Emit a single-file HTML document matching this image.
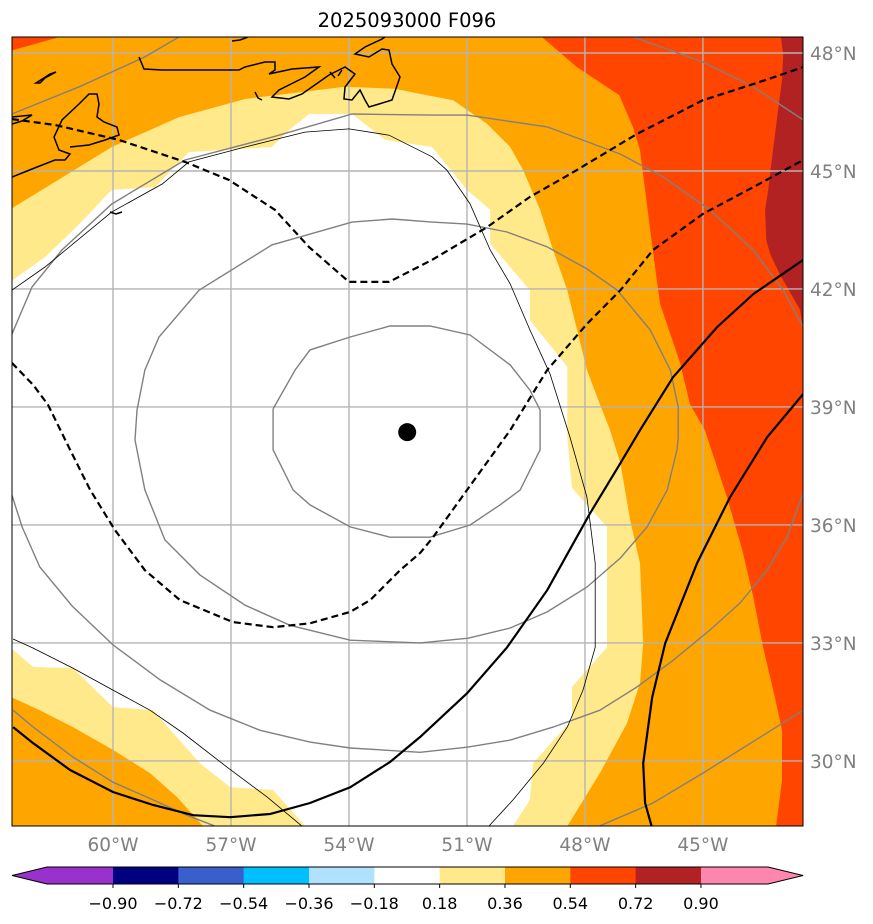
<!DOCTYPE html>
<html><head><meta charset="utf-8"><style>
html,body{margin:0;padding:0;background:#fff;width:873px;height:924px;overflow:hidden}
svg{display:block;font-family:"DejaVu Sans","Liberation Sans",sans-serif}
</style></head><body>
<svg id="chart" width="873" height="924" viewBox="0 0 873 924" xmlns="http://www.w3.org/2000/svg">
<defs><clipPath id="mapclip"><rect x="12" y="37" width="791" height="789"/></clipPath></defs>
<text x="407" y="27" text-anchor="middle" font-size="19.5" fill="#000">2025093000 F096</text>
<rect x="12" y="37" width="791" height="789" fill="#ffa500"/>
<g id="fills" clip-path="url(#mapclip)"></g>
<g id="grid" clip-path="url(#mapclip)"></g>
<g id="lines" clip-path="url(#mapclip)"></g>
<g id="coast" clip-path="url(#mapclip)" fill="none" stroke="#000" stroke-width="1.5">
<path d="M12,117 L32,115 L22,121 L12,124"/>
<path d="M12,177 L32,169 L55,160 L65,160 L70,154 L59,150 L54,137 L62,120 L79,104 L89,94 L97,94 L99,104 L97,117 L104,122 L117,127 L119,135 L105,140 L89,145 L70,147"/>
<path d="M36,83 L50,74 L56,72 L45,78 L40,83 Z"/>
<path d="M139,57 L144,69 L162,70 L239,70 L245,67 L265,62 L275,62 L275,70 L269,74 L292,69 L319,67 L305,77 L299,80 L279,90 L272,97 L289,99 L302,94 L329,75 L345,67 L355,74 L345,87 L344,99 L352,100 L360,90 L365,100 L369,107 L379,104 L392,100 L400,77 L392,64 L389,50 L382,49 L369,57 L355,54 L365,47 L382,39 L385,37"/>
<path d="M240,40 L248,37 M232,41 L240,40"/>
<path d="M255,92 L258,98 L262,100"/>
<path d="M330,72 L335,78 M338,76 L342,70"/>
<path d="M110,212 L116,214 L122,212"/>
</g>
<g id="centerdot" clip-path="url(#mapclip)"></g>
<rect x="12" y="37" width="791" height="789" fill="none" stroke="#000" stroke-width="1"/>
<g id="axislabels" font-size="18.5" fill="#808080"></g>
<g id="colorbar"></g>
</svg>
<script>
// ---- map axis functions ----
function xOf(lon){return 113+(lon+60)*39.33;}
function yOf(lat){return 53+(48-lat)*39.33;}

// ---- data arrays (lon, lat) ----
const lonTicks=[-60,-57,-54,-51,-48,-45];
const lonTickLabels=["60°W","57°W","54°W","51°W","48°W","45°W"];
const latTicks=[48,45,42,39,36,33,30];
const latTickLabels=["48°N","45°N","42°N","39°N","36°N","33°N","30°N"];

const redRegion=[[-49.32,48.6],[-48.20,47.64],[-47.13,46.93],[-46.78,46.12],[-46.60,45.53],[-46.47,44.52],[-46.34,43.50],[-46.19,42.36],[-46.09,41.62],[-45.58,40.12],[-45.33,39.07],[-44.95,38.41],[-44.39,36.71],[-44.00,35.36],[-43.72,34.17],[-43.47,32.89],[-43.17,31.62],[-42.99,30.78],[-42.99,29.51],[-43.17,28.1],[-42.2,28.1],[-42.2,48.6]];
const redCorner=[[-62.8,48.6],[-61.35,48.6],[-61.35,48.41],[-62.8,48.0]];
const brickRegion=[[-43.04,48.6],[-42.96,47.95],[-42.99,47.31],[-43.09,46.55],[-43.22,45.53],[-43.34,44.52],[-43.42,44.01],[-43.39,43.24],[-43.29,42.89],[-43.04,42.36],[-42.53,41.47],[-42.45,40.96],[-42.2,40.96],[-42.2,48.6]];
const khakiRegion=[[-62.8,43.91],[-60.03,45.61],[-58.32,46.37],[-56.64,46.83],[-54.10,47.14],[-52.83,47.09],[-52.19,46.96],[-51.35,46.80],[-50.49,46.20],[-49.90,45.61],[-49.57,45.02],[-49.14,44.01],[-48.81,42.99],[-48.45,41.97],[-48.20,40.96],[-47.95,39.94],[-47.62,39.07],[-47.36,38.41],[-47.10,37.57],[-46.85,36.12],[-46.60,35.03],[-46.52,32.99],[-46.60,31.98],[-46.93,30.96],[-47.62,29.69],[-48.45,28.34],[-48.6,28.1],[-57.8,28.1],[-57.71,28.34],[-58.37,29.08],[-59.06,29.69],[-60.00,30.28],[-61.02,30.86],[-61.86,31.29],[-62.54,31.60],[-62.8,31.60]];
const whiteRegion=[[-62.8,42.05],[-61.73,42.81],[-60.86,43.65],[-60.03,44.52],[-59.72,44.54],[-58.93,44.59],[-58.07,45.48],[-55.96,45.61],[-55.52,46.04],[-55.02,46.45],[-53.92,46.45],[-53.08,45.79],[-51.89,45.61],[-51.00,44.52],[-50.41,44.01],[-50.41,43.15],[-49.40,41.97],[-49.40,41.21],[-48.45,40.02],[-48.45,38.23],[-48.33,36.94],[-47.44,35.95],[-47.44,32.89],[-48.33,31.88],[-48.33,31.04],[-49.32,29.94],[-49.40,29.01],[-49.98,28.1],[-55.07,28.1],[-55.07,28.29],[-55.93,29.26],[-57.02,29.33],[-57.79,29.94],[-58.98,31.29],[-60.00,31.37],[-61.02,32.36],[-62.03,32.39],[-62.54,32.82],[-62.8,32.82]];

const dashedA=[[-62.57,46.32],[-61.47,46.17],[-59.85,45.79],[-58.17,45.23],[-57.05,44.77],[-55.88,44.01],[-55.02,43.07],[-54.00,42.18],[-52.98,42.18],[-51.89,42.74],[-50.49,43.57],[-49.40,44.34],[-48.38,44.92],[-46.68,45.94],[-45.00,46.80],[-43.72,47.21],[-42.45,47.64]];
const dashedB=[[-62.57,40.12],[-62.03,39.56],[-61.65,39.05],[-61.09,37.91],[-60.58,36.89],[-59.95,35.87],[-59.19,34.85],[-58.30,34.09],[-56.95,33.53],[-55.93,33.40],[-54.99,33.50],[-53.97,33.79],[-53.46,34.09],[-52.70,34.85],[-52.19,35.29],[-51.86,35.69],[-51.00,36.89],[-49.90,38.41],[-48.96,39.94],[-47.95,41.11],[-47.10,41.97],[-46.27,42.99],[-45.00,43.91],[-43.72,44.59],[-42.45,45.28]];
const solidA=[[-62.54,30.86],[-62.03,30.45],[-61.09,29.77],[-60.00,29.21],[-58.98,28.88],[-57.96,28.62],[-57.02,28.57],[-56.01,28.65],[-54.99,28.93],[-53.97,29.33],[-52.96,29.97],[-52.19,30.61],[-51.00,31.72],[-49.98,32.89],[-48.96,34.34],[-47.87,36.30],[-47.10,37.57],[-46.60,38.41],[-45.76,39.76],[-44.64,41.03],[-43.72,41.87],[-42.45,42.74]];
const solidB=[[-42.45,39.33],[-43.37,38.23],[-44.31,36.71],[-45.15,35.03],[-45.96,32.99],[-46.29,31.62],[-46.52,29.94],[-46.47,28.93],[-46.29,28.29]];
const grayInner=[[-55.93,38.95],[-55.93,37.91],[-55.42,36.89],[-54.99,36.51],[-53.97,35.95],[-52.96,35.69],[-51.94,35.69],[-50.92,36.00],[-50.16,36.51],[-49.65,36.89],[-49.14,37.91],[-49.14,38.92],[-49.40,39.43],[-49.90,40.07],[-50.92,40.83],[-51.94,41.06],[-52.96,41.06],[-53.97,40.78],[-54.99,40.45],[-55.37,39.94],[-55.93,38.95]];
const graySecond=[[-59.39,38.92],[-59.19,39.94],[-58.83,40.78],[-57.81,41.97],[-55.96,43.12],[-53.92,43.70],[-52.90,43.78],[-51.89,43.70],[-51.00,43.65],[-49.98,43.45],[-48.96,43.07],[-47.95,42.51],[-47.18,41.97],[-46.34,40.96],[-45.83,39.94],[-45.63,39.00],[-45.63,38.23],[-45.66,37.91],[-45.91,36.89],[-46.42,35.95],[-47.10,35.16],[-47.95,34.42],[-48.96,33.79],[-49.90,33.38],[-50.97,33.12],[-52.19,33.00],[-53.97,33.07],[-55.50,33.45],[-56.64,33.96],[-57.79,34.73],[-58.68,35.62],[-59.19,36.89],[-59.44,38.16],[-59.39,38.92]];
const grayThirdUpper=[[-62.57,40.85],[-62.06,42.05],[-61.30,42.99],[-60.03,44.16],[-58.17,45.28],[-55.96,45.86],[-53.92,46.45],[-51.89,46.42],[-51.00,46.42],[-48.96,46.12],[-47.10,45.43],[-46.01,44.85],[-44.82,44.01],[-43.72,42.99],[-42.96,41.97],[-42.45,41.03]];
const grayThirdLower=[[-62.57,36.76],[-62.31,35.95],[-61.86,34.93],[-61.04,33.94],[-60.00,32.95],[-58.80,32.06],[-57.53,31.29],[-56.26,30.78],[-54.99,30.48],[-53.97,30.33],[-52.19,30.22],[-51.00,30.35],[-49.90,30.53],[-48.81,30.86],[-47.62,31.29],[-46.68,31.88],[-45.76,32.56],[-44.82,33.33],[-44.06,34.01],[-43.37,34.85],[-42.86,35.69],[-42.45,36.81]];
const grayOuterTL=[[-62.57,46.45],[-60.86,47.14],[-59.19,47.90],[-58.32,48.41]];
const grayOuterTR=[[-46.78,48.41],[-45.00,47.77],[-43.72,47.14],[-42.45,46.30]];
const grayOuterBR=[[-42.45,31.29],[-44.06,30.28],[-45.00,29.69],[-46.27,28.93],[-47.69,28.32]];
const grayOuterBL=[[-62.54,31.29],[-62.03,30.86],[-61.02,30.10],[-60.00,29.46],[-58.98,29.01],[-58.12,28.62],[-57.35,28.32]];
const thinA=[[-62.57,41.97],[-61.73,42.56],[-60.03,43.96],[-58.75,44.67],[-58.07,45.23],[-56.64,45.61],[-55.12,45.99],[-54.00,46.07],[-52.98,45.91],[-51.89,45.36],[-51.51,45.02],[-50.92,44.16],[-50.41,42.99],[-49.90,42.13],[-49.40,40.96],[-48.89,39.84],[-48.38,38.23],[-47.95,36.71],[-47.74,35.03],[-47.74,32.89],[-48.05,31.80],[-48.45,30.86],[-49.06,29.94],[-49.83,29.01],[-50.49,28.29]];
const thinB=[[-62.54,33.10],[-62.03,32.87],[-61.02,32.36],[-60.00,31.80],[-59.06,31.29],[-58.22,30.71],[-57.10,29.84],[-56.08,29.08],[-55.17,28.32]];
const stormCenter=[-52.52,38.36];

// colorbar data
const cbLevels=[-0.90,-0.72,-0.54,-0.36,-0.18,0.18,0.36,0.54,0.72,0.90];
const cbLabels=["\u22120.90","\u22120.72","\u22120.54","\u22120.36","\u22120.18","0.18","0.36","0.54","0.72","0.90"];
const cbColors=["#000080","#3a5fcd","#00bfff","#b0e2ff","#ffffff","#ffe98a","#ffa500","#ff4500","#b22222"];
const cbUnder="#9932cc", cbOver="#ff86ae";

const NS="http://www.w3.org/2000/svg";
function pts(arr){return arr.map(p=>xOf(p[0]).toFixed(1)+","+yOf(p[1]).toFixed(1)).join(" ");}
function mk(tag,parent,attrs){const e=document.createElementNS(NS,tag);for(const k in attrs)e.setAttribute(k,attrs[k]);parent.appendChild(e);return e;}

const fills=document.getElementById('fills');
let e;
e=mk('polygon',fills,{points:pts(khakiRegion),fill:"#ffe98a"});


e=mk('polygon',fills,{points:pts(whiteRegion),fill:"#ffffff"});


e=mk('polygon',fills,{points:pts(redRegion),fill:"#ff4500"});


e=mk('polygon',fills,{points:pts(redCorner),fill:"#ff4500"});


e=mk('polygon',fills,{points:pts(brickRegion),fill:"#b22222"});



// grid
const grid=document.getElementById('grid');
lonTicks.forEach(l=>{const g=mk('line',grid,{x1:xOf(l),x2:xOf(l),y1:37,y2:826,stroke:"#b4b4b4","stroke-width":1.4});

});
latTicks.forEach(l=>{const g=mk('line',grid,{x1:12,x2:803,y1:yOf(l),y2:yOf(l),stroke:"#b4b4b4","stroke-width":1.4});

});

// contour lines
const lines=document.getElementById('lines');
[[grayInner,'pressure-contour-inner'],[graySecond,'pressure-contour-2'],[grayThirdUpper,'pressure-contour-3-upper'],[grayThirdLower,'pressure-contour-3-lower'],[grayOuterTL,'pressure-contour-outer-tl'],[grayOuterTR,'pressure-contour-outer-tr'],[grayOuterBR,'pressure-contour-outer-br'],[grayOuterBL,'pressure-contour-outer-bl']].forEach(a=>{
 const p=mk('polyline',lines,{points:pts(a[0]),fill:"none",stroke:"#808080","stroke-width":1.4});
 
 
});
[[thinA,'thin-contour-a'],[thinB,'thin-contour-b']].forEach(a=>{
 const p=mk('polyline',lines,{points:pts(a[0]),fill:"none",stroke:"#000","stroke-width":0.8});
 
 
});
[[dashedA,'dashed-contour-a'],[dashedB,'dashed-contour-b']].forEach(a=>{
 const p=mk('polyline',lines,{points:pts(a[0]),fill:"none",stroke:"#000","stroke-width":2.2,"stroke-dasharray":"7,4"});
 
 
});
[[solidA,'solid-contour-a'],[solidB,'solid-contour-b']].forEach(a=>{
 const p=mk('polyline',lines,{points:pts(a[0]),fill:"none",stroke:"#000","stroke-width":2.2});
 
 
});
const cd=mk('circle',document.getElementById('centerdot'),{cx:xOf(stormCenter[0]),cy:yOf(stormCenter[1]),r:9,fill:"#000"});



// axis labels
const al=document.getElementById('axislabels');
lonTicks.forEach((l,i)=>{const t=mk('text',al,{x:xOf(l),y:851,"text-anchor":"middle"});t.textContent=lonTickLabels[i];

});
latTicks.forEach((l,i)=>{const t=mk('text',al,{x:810,y:yOf(l)+7});t.textContent=latTickLabels[i];

});

// colorbar
const cb=document.getElementById('colorbar');
const cbX0=113, cbStep=65.33, cbY=867, cbH=17;
function cbx(i){return cbX0+i*cbStep;}
let u=mk('polygon',cb,{points:`12,${cbY+cbH/2} 47,${cbY} ${cbx(0)},${cbY} ${cbx(0)},${cbY+cbH} 47,${cbY+cbH}`,fill:cbUnder});


cbColors.forEach((c,i)=>{const r=mk('rect',cb,{x:cbx(i),y:cbY,width:cbStep+0.5,height:cbH,fill:c});

});
const last=cbx(cbColors.length);
let o=mk('polygon',cb,{points:`${last},${cbY} 768,${cbY} 803,${cbY+cbH/2} 768,${cbY+cbH} ${last},${cbY+cbH}`,fill:cbOver});


let ob=mk('polygon',cb,{points:`12,${cbY+cbH/2} 47,${cbY} 768,${cbY} 803,${cbY+cbH/2} 768,${cbY+cbH} 47,${cbY+cbH}`,fill:"none",stroke:"#000","stroke-width":1});


cbLevels.forEach((v,i)=>{
 const tk=mk('line',cb,{x1:cbx(i),x2:cbx(i),y1:cbY+cbH,y2:cbY+cbH+4,stroke:"#000","stroke-width":1});
 
 
 const t=mk('text',cb,{x:cbx(i),y:909,"text-anchor":"middle","font-size":16,fill:"#000"});
 t.textContent=cbLabels[i];
 
 
});
</script>
</body></html>
